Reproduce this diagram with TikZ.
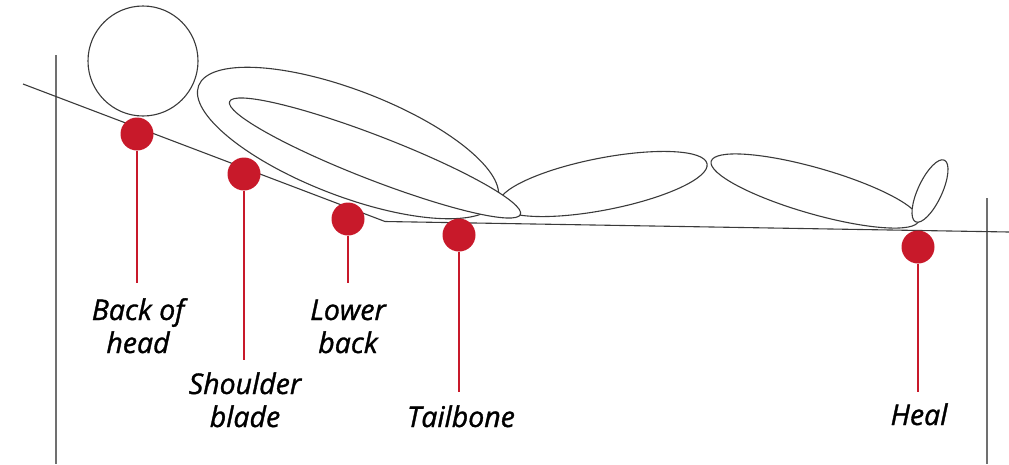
\documentclass[tikz,border=0pt]{standalone}
\usepackage{fontspec}
\setmainfont{Open Sans}
\newfontfamily\labelfont{Open Sans}[RawFeature={embolden=1.2}]
\begin{document}
\begin{tikzpicture}[x=1pt,y=-1pt,
  body/.style={draw=outline,line width=1.1pt},
  wall/.style={draw=wallgray,line width=1.4pt},
  dot/.style={circle,fill=pressred,inner sep=0pt,minimum size=33pt},
  stem/.style={draw=pressred,line width=2pt},
  lab/.style={align=center,font=\labelfont\fontsize{28.5}{33}\selectfont\itshape,inner sep=0pt}]
\definecolor{outline}{HTML}{3A3A3A}
\definecolor{wallgray}{HTML}{707070}
\definecolor{pressred}{HTML}{C8192A}
\useasboundingbox (0,0) rectangle (1009,464);

% bed frame and mattress surface
\coordinate (wl1) at (56,55);   \coordinate (wl2) at (56,464);
\coordinate (wr1) at (987,198); \coordinate (wr2) at (987,464);
\draw[wall] (wl1) -- (wl2);
\draw[wall] (wr1) -- (wr2);
\coordinate (m1) at (23,84); \coordinate (m2) at (385,221.5); \coordinate (m3) at (1009,232);
\draw[body] (m1) -- (m2) -- (m3);

% reclining figure
\draw[body] (143,61) circle[radius=55pt];
\draw[body,rotate around={-21:(348,143)}] (348,143) ellipse[x radius=160pt,y radius=53pt];
\draw[body,rotate around={11:(603,184)}] (603,184) ellipse[x radius=106pt,y radius=26pt];
\draw[body,fill=white,rotate around={-21.2:(375,158)}] (375,158) ellipse[x radius=156pt,y radius=22pt];
\draw[body,rotate around={-16:(815,191)}] (815,191) ellipse[x radius=108pt,y radius=23pt];
\draw[body,fill=white,rotate around={65:(930,191)}] (930,191) ellipse[x radius=34pt,y radius=12pt];

% pressure points
\node[dot] (d1) at (137,134) {};
\node[dot] (d2) at (244,174) {};
\node[dot] (d3) at (348,219) {};
\node[dot] (d4) at (459,235) {};
\node[dot] (d5) at (918,247) {};
\coordinate (e1) at (137,283);
\coordinate (e2) at (244,360);
\coordinate (e3) at (348,283);
\coordinate (e4) at (459,392);
\coordinate (e5) at (918,392);
\draw[stem] (d1.south) -- (e1);
\draw[stem] (d2.south) -- (e2);
\draw[stem] (d3.south) -- (e3);
\draw[stem] (d4.south) -- (e4);
\draw[stem] (d5.south) -- (e5);

% labels (base anchor sits on the last line)
\node[lab,anchor=base] (l1) at (138,353) {Back of\\head};
\node[lab,anchor=base] (l2) at (245,427) {Shoulder\\blade};
\node[lab,anchor=base] (l3) at (348,353) {Lower\\back};
\node[lab,anchor=base] (l4) at (461,427) {Tailbone};
\node[lab,anchor=base] (l5) at (919,425) {Heal};
\end{tikzpicture}
\end{document}
